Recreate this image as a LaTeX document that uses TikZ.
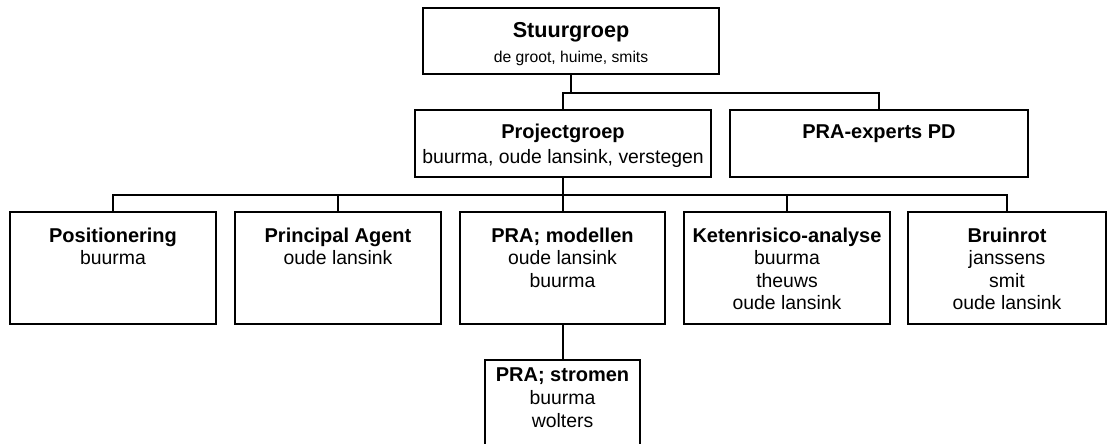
\documentclass[tikz,border=0pt]{standalone}
\usepackage{fontspec}
\setmainfont{Liberation Sans}
\usetikzlibrary{positioning}

% box text: [baselineskip]{width}{height}{first baseline}{lines}
\newcommand{\orgbox}[5][11.25pt]{\parbox[c][#3][t]{#2}{\centering\fontsize{9.7pt}{#1}\selectfont\rule{0pt}{#4}#5}}
\newcommand{\orgname}[1]{{\bfseries\fontsize{10pt}{11.25pt}\selectfont #1}}

\begin{document}
\begin{tikzpicture}[orgnode/.style={draw,line width=1pt,inner sep=0pt,outer sep=0pt},
						bus/.style={line width=1pt,line join=miter}]
		\useasboundingbox (0,0) rectangle (557pt,-222pt);

		\node[orgnode,anchor=north west]	(stuur)		at (211.5pt,-4pt)	{\orgbox[12.5pt]{148pt}{33pt}{15pt}{{\bfseries\fontsize{10.8pt}{12.5pt}\selectfont Stuurgroep}\\{\fontsize{7.85pt}{12.5pt}\selectfont de groot, huime, smits}}};
		\node[orgnode,anchor=north west]	(proj)		at (207.5pt,-55pt)	{\orgbox[12.5pt]{148pt}{33.5pt}{14pt}{\orgname{Projectgroep}\\buurma, oude lansink, verstegen}};
		\node[orgnode,right=9.5pt of proj]	(expert)	{\orgbox{149pt}{33.5pt}{14pt}{\orgname{PRA-experts PD}}};

		\node[orgnode,anchor=north west]	(pos)		at (5pt,-106pt)	{\orgbox{103pt}{56pt}{15pt}{\orgname{Positionering}\\buurma}};
		\node[orgnode,right=9.5pt of pos]	(agent)		{\orgbox{103pt}{56pt}{15pt}{\orgname{Principal Agent}\\oude lansink}};
		\node[orgnode,right=9.5pt of agent]	(model)		{\orgbox{102.5pt}{56pt}{15pt}{\orgname{PRA; modellen}\\oude lansink\\buurma}};
		\node[orgnode,right=9.5pt of model]	(keten)		{\orgbox{103pt}{56pt}{15pt}{\orgname{Ketenrisico-analyse}\\buurma\\theuws\\oude lansink}};
		\node[orgnode,right=9pt of keten]	(bruin)		{\orgbox{99pt}{56pt}{15pt}{\orgname{Bruinrot}\\janssens\\smit\\oude lansink}};

		\node[orgnode,below=18pt of model]	(stromen)	{\orgbox[11.6pt]{77.5pt}{43pt}{10.5pt}{\orgname{PRA; stromen}\\buurma\\wolters}};

		\coordinate (bus1) at (0,-46.5pt);
		\coordinate (bus2) at (0,-97.25pt);

		\draw[bus] (stuur.south) -- (stuur.south |- bus1);
		\draw[bus] (proj.north) -- (proj.north |- bus1) -- (expert.north |- bus1) -- (expert.north);
		\draw[bus] (proj.south) -- (proj.south |- bus2);
		\draw[bus] (pos.north) -- (pos.north |- bus2) -- (bruin.north |- bus2) -- (bruin.north);
		\draw[bus] (agent.north) -- (agent.north |- bus2);
		\draw[bus] (model.north) -- (model.north |- bus2);
		\draw[bus] (keten.north) -- (keten.north |- bus2);
		\draw[bus] (model.south) -- (stromen.north);
	\end{tikzpicture}
\end{document}
